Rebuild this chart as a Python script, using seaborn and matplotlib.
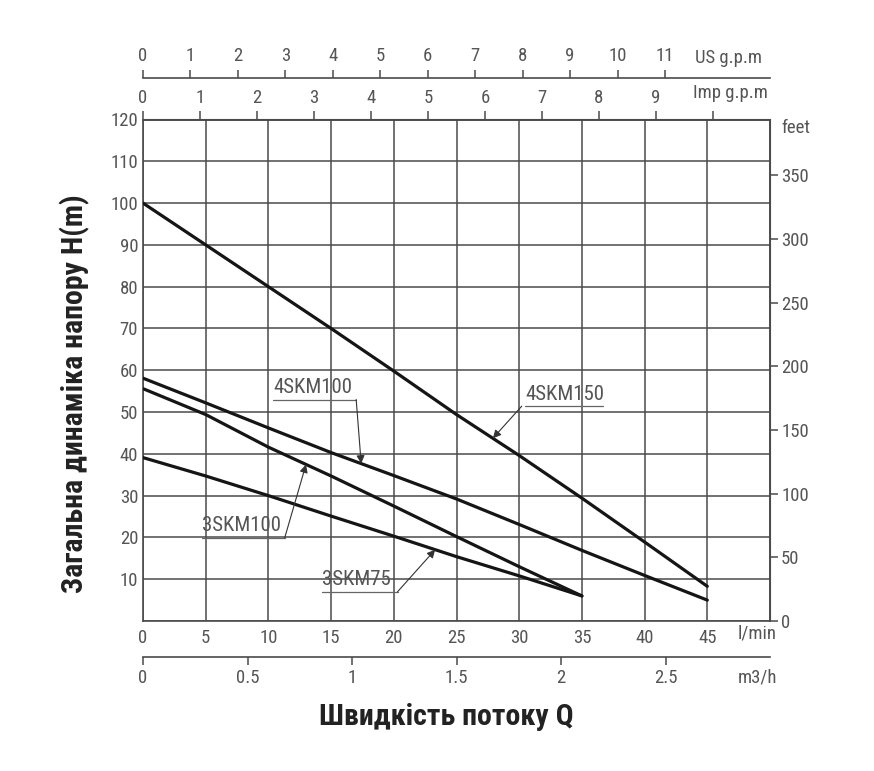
import matplotlib
matplotlib.use('Agg')
import matplotlib.pyplot as plt
from matplotlib import font_manager
import numpy as np
import pandas as pd
import seaborn as sns

# curves: flow in l/min, head in m
flow_4skm150 = [0, 5, 10, 15, 20, 25, 30, 35, 40, 45]
head_4skm150 = [100, 90, 80, 70, 59.8, 49.4, 39.6, 29.4, 18.9, 8.3]
flow_4skm100 = [0, 5, 10, 15, 20, 25, 30, 35, 40, 45]
head_4skm100 = [58.1, 52.2, 46.2, 40.3, 34.8, 29.2, 23.1, 16.9, 10.9, 5]
flow_3skm100 = [0, 5, 10, 15, 20, 25, 30, 35]
head_3skm100 = [55.6, 49.4, 41.6, 34.7, 27.5, 20.2, 13, 6]
flow_3skm75 = [0, 5, 10, 15, 20, 25, 30, 35]
head_3skm75 = [39.1, 34.7, 30, 25.1, 20.3, 15.4, 10.8, 6]

lmin_ticks = list(range(0, 51, 5))
lmin_labels = [str(v) for v in range(0, 46, 5)] + ['']
head_ticks = list(range(0, 121, 10))
head_labels = [''] + [str(v) for v in range(10, 121, 10)]
feet_ticks = list(range(0, 351, 50))
us_ticks = list(range(0, 12))
imp_ticks = list(range(0, 11))
imp_labels = [str(v) for v in range(0, 10)] + ['']
m3h_ticks = [0, 0.5, 1, 1.5, 2, 2.5]
m3h_labels = ['0', '0.5', '1', '1.5', '2', '2.5']

# label, text x (l/min), underline y (m), underline end x, arrow tip x
callouts = [
    ('4SKM100', 10.4, 53.0, 17.0, 17.4, 'right'),
    ('3SKM100', 4.7, 19.9, 11.3, 13.0, 'right'),
    ('4SKM150', 30.5, 51.4, 36.7, 27.9, 'left'),
    ('3SKM75', 14.3, 7.0, 20.3, 23.3, 'right'),
]


def pick_font(names):
    for n in names:
        try:
            font_manager.findfont(font_manager.FontProperties(family=n), fallback_to_default=False)
            return n
        except ValueError:
            pass
    return 'DejaVu Sans'


thin_font = pick_font(['Liberation Sans Narrow', 'Roboto Condensed', 'Roboto'])
bold_font = pick_font(['Roboto Condensed', 'Liberation Sans Narrow', 'Roboto'])

sns.set_style('white')
plt.rcParams['font.family'] = [thin_font, 'DejaVu Sans']

rows = []
for name, fl, hd in [('4SKM150', flow_4skm150, head_4skm150), ('4SKM100', flow_4skm100, head_4skm100),
                     ('3SKM100', flow_3skm100, head_3skm100), ('3SKM75', flow_3skm75, head_3skm75)]:
    for f, h in zip(fl, hd):
        rows.append({'flow': f, 'head': h, 'model': name})
df = pd.DataFrame(rows)

fig = plt.figure(figsize=(8.74, 7.71), dpi=100)
ax = fig.add_axes([143 / 874, 150 / 771, 627 / 874, 501.5 / 771])

grid_c = '#4a4a4a'
text_c = '#555555'
fs = 13.5

sns.lineplot(data=df, x='flow', y='head', hue='model', palette=['#151515'] * 4,
             linewidth=2.3, legend=False, errorbar=None, ax=ax, zorder=3)

ax.set_xlim(0, 50)
ax.set_ylim(0, 120)
ax.set_xticks(lmin_ticks)
ax.set_xticklabels(lmin_labels)
ax.set_yticks(head_ticks)
ax.set_yticklabels(head_labels)
ax.grid(True, color=grid_c, linewidth=1.1)
ax.set_xlabel('')
ax.set_ylabel('')
for s in ax.spines.values():
    s.set_color(grid_c)
    s.set_linewidth(1.2)
ax.tick_params(axis='x', length=0, pad=6, labelsize=fs, labelcolor=text_c)
ax.tick_params(axis='y', length=2.5, pad=1, color=grid_c, labelsize=fs, labelcolor=text_c)

# right axis in feet
ax_ft = ax.secondary_yaxis('right', functions=(lambda m: m * 3.2808, lambda f: f / 3.2808))
ax_ft.set_yticks(feet_ticks)
ax_ft.tick_params(length=6, width=1.1, pad=2, color=grid_c, labelsize=fs, labelcolor=text_c)
ax_ft.spines['right'].set_color(grid_c)

# Imp gpm on top border
ax_imp = ax.secondary_xaxis('top', functions=(lambda x: x / 4.546, lambda g: g * 4.546))
ax_imp.set_xticks(imp_ticks)
ax_imp.set_xticklabels(imp_labels)
ax_imp.tick_params(length=6, width=1.1, pad=3, color=grid_c, labelsize=fs, labelcolor=text_c)
ax_imp.spines['top'].set_color(grid_c)

# US gpm axis above
ax_us = ax.secondary_xaxis(1.083, functions=(lambda x: x / 3.785, lambda g: g * 3.785))
ax_us.set_xticks(us_ticks)
ax_us.tick_params(length=6, width=1.1, pad=3, color=grid_c, labelsize=fs, labelcolor=text_c)
ax_us.spines['top'].set_color(grid_c)
ax_us.spines['top'].set_linewidth(1.2)

# m3/h axis below
ax_m3 = ax.secondary_xaxis(-0.0712, functions=(lambda x: x * 0.06, lambda q: q / 0.06))
ax_m3.set_xticks(m3h_ticks)
ax_m3.set_xticklabels(m3h_labels)
ax_m3.tick_params(length=6, width=1.1, pad=3, color=grid_c, labelsize=fs, labelcolor=text_c)
ax_m3.spines['bottom'].set_color(grid_c)
ax_m3.spines['bottom'].set_linewidth(1.2)

# unit names
ax.text(0.880, 1.1226, 'US g.p.m', transform=ax.transAxes, ha='left', va='center', fontsize=fs, color=text_c)
ax.text(0.877, 1.053, 'Imp g.p.m', transform=ax.transAxes, ha='left', va='center', fontsize=fs, color=text_c)
ax.text(0.948, -0.025, 'l/min', transform=ax.transAxes, ha='left', va='center', fontsize=fs, color=text_c)
ax.text(0.948, -0.112, 'm3/h', transform=ax.transAxes, ha='left', va='center', fontsize=fs, color=text_c)
ax.text(1.018, 0.983, 'feet', transform=ax.transAxes, ha='left', va='center', fontsize=fs, color=text_c)

# model call-outs: underlined name with a leader arrow to the curve
curves = {'4SKM150': (flow_4skm150, head_4skm150), '4SKM100': (flow_4skm100, head_4skm100),
          '3SKM100': (flow_3skm100, head_3skm100), '3SKM75': (flow_3skm75, head_3skm75)}
for name, tx, uy, ux, tipx, side in callouts:
    fl, hd = curves[name]
    tipy = np.interp(tipx, fl, hd)
    ax.text(tx, uy + 0.6, name, ha='left', va='bottom', fontsize=15, color=text_c, zorder=4)
    ax.plot([tx, ux], [uy, uy], color='#666666', lw=0.9, zorder=4)
    startx = ux if side == 'right' else tx - 0.3
    ax.annotate('', xy=(tipx, tipy), xytext=(startx, uy), zorder=4,
                arrowprops=dict(arrowstyle='-|>', color='#333333', lw=0.8,
                                mutation_scale=12, shrinkA=0, shrinkB=0))

fig.text(0.086, 0.490, 'Загальна динаміка напору H(m)', rotation=90, ha='center', va='center',
         fontsize=21.5, fontweight='bold', color='#222222', family=[bold_font, 'DejaVu Sans'])
fig.text(0.511, 0.070, 'Швидкість потоку Q', ha='center', va='center',
         fontsize=21.5, fontweight='bold', color='#222222', family=[bold_font, 'DejaVu Sans'])

fig.savefig('out.png', dpi=100)
